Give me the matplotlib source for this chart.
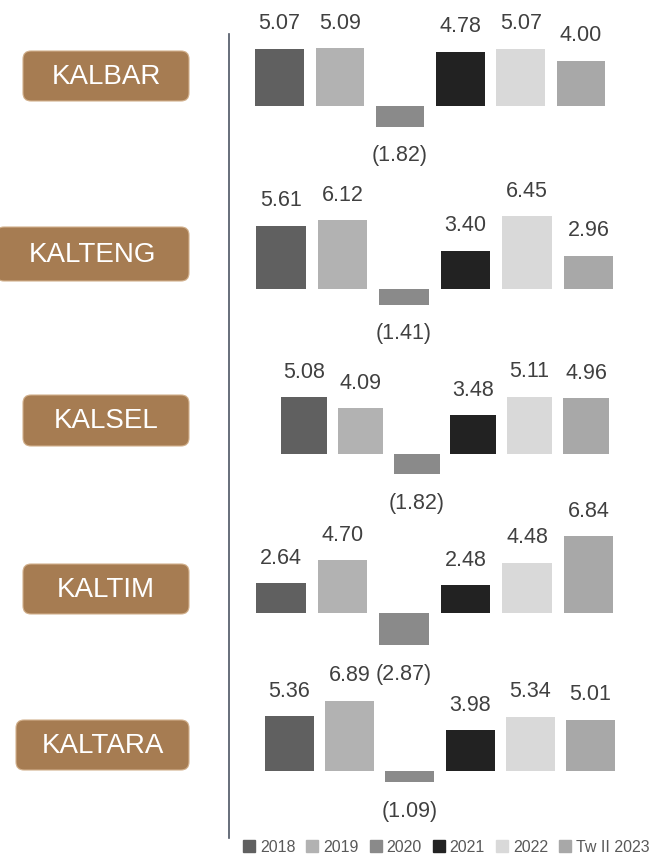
import matplotlib
matplotlib.use("Agg")
import matplotlib.pyplot as plt
from matplotlib.patches import FancyBboxPatch, Patch

plt.rcParams['font.family'] = ['Liberation Sans', 'DejaVu Sans']

regions = ['KALBAR', 'KALTENG', 'KALSEL', 'KALTIM', 'KALTARA']
years = ['2018', '2019', '2020', '2021', '2022', 'Tw II 2023']
kalbar = [5.07, 5.09, -1.82, 4.78, 5.07, 4.00]
kalteng = [5.61, 6.12, -1.41, 3.40, 6.45, 2.96]
kalsel = [5.08, 4.09, -1.82, 3.48, 5.11, 4.96]
kaltim = [2.64, 4.70, -2.87, 2.48, 4.48, 6.84]
kaltara = [5.36, 6.89, -1.09, 3.98, 5.34, 5.01]
values = [kalbar, kalteng, kalsel, kaltim, kaltara]

colors = ['#606060', '#b2b2b2', '#8a8a8a', '#222222', '#d9d9d9', '#a8a8a8']
box_color = '#a67c52'
text_color = '#404040'

W, H = 656, 864
fig = plt.figure(figsize=(W / 100, H / 100), dpi=100)

# pixel-space background axes for boxes and the divider line
bg = fig.add_axes([0, 0, 1, 1])
bg.set_xlim(0, W)
bg.set_ylim(H, 0)
bg.axis('off')

# panel layout in pixels: first bar centre, pitch, bar width, baseline y, px per unit
layout = [
    (279.5, 60.3, 48.5, 106, 11.3),
    (281.0, 61.5, 49.5, 289, 11.25),
    (304.0, 56.4, 45.5, 454, 11.2),
    (281.0, 61.5, 49.5, 613, 11.2),
    (289.5, 60.2, 49.0, 771, 10.2),
]
boxes = [(23, 51, 189, 101), (-4, 227, 189, 281), (23, 395, 189, 446),
         (23, 564, 189, 614), (16, 720, 189, 770)]

for name, (x0, y0, x1, y1) in zip(regions, boxes):
    bg.add_patch(FancyBboxPatch((x0, y0), x1 - x0, y1 - y0,
                                boxstyle='round,pad=0,rounding_size=8',
                                fc=box_color, ec='#d2b08c', lw=0.8))
    bg.text((x0 + x1) / 2, (y0 + y1) / 2 + 1, name, color='white',
            fontsize=20, ha='center', va='center')

bg.plot([229, 229], [34, 838], color='#4d5563', lw=1.2)

ymin, ymax = -4, 8
for vals, (cx, pitch, bw, base, scale) in zip(values, layout):
    left = cx - pitch / 2
    right = cx + 5.5 * pitch
    top = base - ymax * scale
    bottom = base - ymin * scale
    ax = fig.add_axes([left / W, 1 - bottom / H, (right - left) / W, (bottom - top) / H])
    ax.set_xlim(-0.5, 5.5)
    ax.set_ylim(ymin, ymax)
    ax.axis('off')
    ax.bar(range(len(vals)), vals, width=bw / pitch, color=colors)
    for i, v in enumerate(vals):
        if v >= 0:
            lbl, off = f'{v:.2f}', 25
        else:
            lbl, off = f'({abs(v):.2f})', -29
        ax.annotate(lbl, (i, v), xytext=(0, off * 0.72), textcoords='offset points',
                    ha='center', va='center', fontsize=15.5, color=text_color,
                    annotation_clip=False)

handles = [Patch(color=c, label=y) for c, y in zip(colors, years)]
fig.legend(handles=handles, loc='center left', bbox_to_anchor=(243 / W, 1 - 847 / H),
           ncol=6, frameon=False, fontsize=11.5, handlelength=0.75, handleheight=0.75,
           handletextpad=0.3, columnspacing=0.7, borderpad=0, borderaxespad=0,
           labelcolor='#595959')

fig.savefig('out.png', dpi=100)
